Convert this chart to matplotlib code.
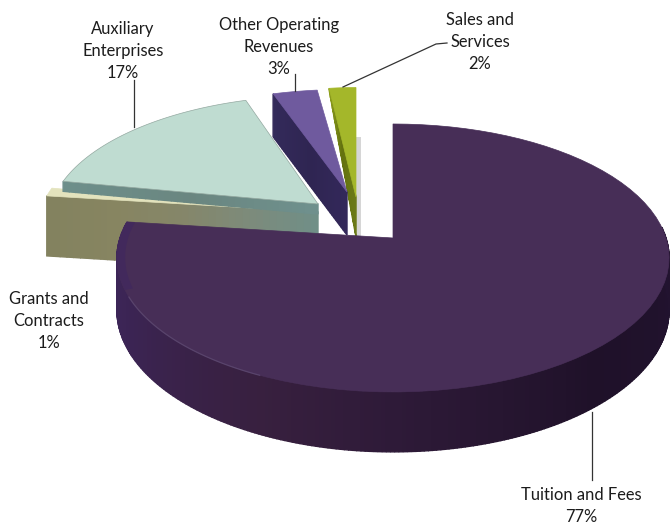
import numpy as np
import matplotlib
matplotlib.use("Agg")
import matplotlib.pyplot as plt
from matplotlib.colors import to_rgb

plt.rcParams['font.family'] = ['Lato', 'DejaVu Sans']

categories = ["Tuition and Fees", "Grants and\nContracts", "Auxiliary\nEnterprises",
              "Other Operating\nRevenues", "Sales and\nServices"]
shares = [77, 1, 17, 3, 2]

# perspective of the pie plane
RX, RY, TILT = 273.0, 131.0, 0.149


def project(angle, cx, cy, sx=1.0, sy=1.0):
    # angle in degrees on the pie, result in figure pixels
    a = np.radians(angle)
    w = 1 + TILT * np.sin(a)
    return cx + sx * RX * np.cos(a) / w, cy - sy * RY * np.sin(a) / w


def mix(stops, colors, t):
    rgb = np.array([to_rgb(c) for c in colors])
    return tuple(np.interp(t, stops, rgb[:, i]) for i in range(3))


def wedge_top(ax, a0, a1, cx, cy, sx, sy, color, edge=None):
    ang = np.linspace(a0, a1, 80)
    x, y = project(ang, cx, cy, sx, sy)
    ax.fill(np.r_[cx, x], np.r_[cy, y], color=color, lw=0.5, ec=edge or color)


def cut_face(ax, angle, cx, cy, sx, sy, apex_depth, rim_depth, colors, n=40):
    # flat face left by pulling a slice out, shaded from rim to apex
    rx, ry = project(angle, cx, cy, sx, sy)
    for i in range(n):
        t0, t1 = i / n, (i + 1) / n
        x0, x1 = rx + (cx - rx) * t0, rx + (cx - rx) * t1
        y0, y1 = ry + (cy - ry) * t0, ry + (cy - ry) * t1
        d0 = rim_depth + (apex_depth - rim_depth) * t0
        d1 = rim_depth + (apex_depth - rim_depth) * t1
        c = mix(np.linspace(0, 1, len(colors)), colors, t0)
        ax.fill([x0, x1, x1, x0], [y0, y1, y1 + d1, y0 + d0], color=c, lw=1.0, ec=c)


fig = plt.figure(figsize=(6.72, 5.25), dpi=100)
ax = fig.add_axes([0, 0, 1, 1])
ax.set_xlim(0, 672)
ax.set_ylim(525, 0)
ax.axis('off')

# slice angles run clockwise from twelve o'clock
edges = 90 - np.cumsum([0] + shares) * 3.6
tuition, grants, aux, other, sales = [(edges[i], edges[i + 1]) for i in range(5)]

# soft shadows behind the pulled out slices
ax.fill([356, 361, 361, 356], [137, 137, 238, 238], color="#d6d6d6", lw=0)
ax.fill([46, 130, 130, 46], [254, 259, 262, 256], color="#e2e2e2", lw=0)

# sales and services
cut_face(ax, sales[0], 356, 197, 0.9, 0.96, 40, 2, ["#8e9f1e", "#64720f", "#6b7a18"])
wedge_top(ax, sales[0], sales[1], 356, 197, 0.9, 0.96, "#a4b72a")

# other operating revenues
cut_face(ax, other[0], 347, 192, 1.0, 0.9, 43, 43, ["#332a5a", "#2f2552", "#33285a"])
wedge_top(ax, other[0], other[1], 347, 192, 1.0, 0.9, "#6f5a9e")

# grants and contracts sits under the edge of the auxiliary slice
cut_face(ax, grants[0], 318, 212, 1.02, 1.0, 60, 60,
         ["#83825f", "#878561", "#85866a", "#7c8b7c", "#6f8f88"])
wedge_top(ax, grants[0], grants[1], 318, 212, 1.02, 1.0, "#e3e3bd")

# auxiliary enterprises
cut_face(ax, aux[0], 318, 204, 0.977, 0.95, 10, 10, ["#6d8f8b", "#6a8680", "#6f918e"])
wedge_top(ax, aux[0], aux[1], 318, 204, 0.977, 0.95, "#bfdcd1", "#93a8a0")

# tuition and fees, wall first and top face over it
cx, cy = 393, 238
depth = 51
ang = np.arange(tuition[1], 5.0, 0.75)
for a0, a1 in zip(ang[:-1], ang[1:]):
    x, y = project(np.array([a0, a1]), cx, cy)
    w = 1 + TILT * np.sin(np.radians([a0, a1]))
    c = mix([-190, -150, -115, -90, -50, 0],
            ["#3e2760", "#3b2452", "#38203f", "#2e1a38", "#1f1129", "#221330"], a0)
    ax.fill([x[0], x[1], x[1], x[0]], [y[0], y[1], y[1] + depth / w[1], y[0] + depth / w[0]],
            color=c, lw=1.0, ec=c)
wedge_top(ax, tuition[0], tuition[1], cx, cy, 1.0, 1.0, "#472e57")

# darker bevel on the left of the top face
band = np.linspace(tuition[1], -158, 40)
bx, by = project(band, cx, cy)
bx2, by2 = project(band[::-1], cx, cy, 0.97, 0.97)
ax.fill(np.r_[bx, bx2], np.r_[by, by2], color="#42295c", lw=0)

# thin highlight along the front rim
rim = np.linspace(-155, -115, 40)
rx, ry = project(rim, cx, cy)
ax.plot(rx, ry, color="#5e4a72", lw=0.9, alpha=0.8)

# leader lines
leaders = [([134, 134], [80, 127]), ([295, 295], [74, 91]),
           ([343, 436, 447], [87, 44, 43]), ([592, 592], [412, 480])]
for lx, ly in leaders:
    ax.plot(lx, ly, color="#333333", lw=0.9)

# slice labels
label_pos = [(581, 506), (49, 321), (123, 51), (279, 47), (480, 42)]
for name, share, (tx, ty) in zip(categories, shares, label_pos):
    ax.text(tx, ty, f"{name}\n{share}%", ha='center', va='center', fontsize=11.9,
            color="#1c1c1c", linespacing=1.45)

fig.savefig("out.png", dpi=100)
